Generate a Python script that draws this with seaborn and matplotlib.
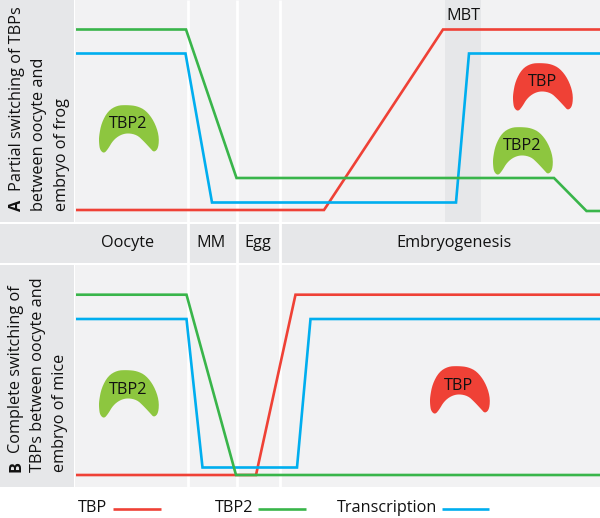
import numpy as np
import pandas as pd
import matplotlib
matplotlib.use("Agg")
import matplotlib.pyplot as plt
from matplotlib.patches import Polygon, Rectangle
import seaborn as sns

# --- data (in image pixels) ---
a_tbp_x = [76, 324, 443, 600]
a_tbp_y = [210, 210, 29.5, 29.5]
a_tbp2_x = [76, 186, 236.5, 554, 586.5, 600]
a_tbp2_y = [29.5, 29.5, 178, 178, 211, 211]
a_tr_x = [76, 185.5, 212, 456, 469, 600]
a_tr_y = [53.5, 53.5, 202.5, 202.5, 53.5, 53.5]

b_tbp_x = [76, 256, 295.5, 600]
b_tbp_y = [475, 475, 294.7, 294.7]
b_tbp2_x = [76, 186.5, 236, 600]
b_tbp2_y = [294.7, 294.7, 475, 475]
b_tr_x = [76, 186.5, 202.5, 297, 310.5, 600]
b_tr_y = [319, 319, 467.5, 467.5, 319, 319]

stage_names = ["Oocyte", "MM", "Egg", "Embryogenesis"]
stage_centers = [127.5, 211, 257.5, 454]
divider_x = [188, 236.5, 280]

RED = "#ef4136"
GREEN = "#39b54a"
BLUE = "#00aeef"
BLOB_GREEN = "#8dc63f"
PANEL = "#f2f2f3"
BAND = "#e6e7e9"

# outline of the protein shape, relative to its top left corner
blob_x = [-1, 0, 4, 8, 13, 20, 28, 37, 43, 50, 54, 58.5, 59, 54, 46, 37, 27, 17, 8, 1.5, -1]
blob_y = [37, 44, 47.5, 43, 34.5, 29, 27, 29, 34.5, 42, 46.5, 42, 29, 15, 4.5, 0, -1, -0.5, 5, 17, 30]

# name, left, top, colour
blobs = [("TBP2", 100, 106, BLOB_GREEN),
         ("TBP", 514, 64, RED),
         ("TBP2", 494, 128, BLOB_GREEN),
         ("TBP2", 100, 371, BLOB_GREEN),
         ("TBP", 431, 367, RED)]

sns.set_theme(style="white")
plt.rcParams['font.family'] = ['Open Sans', 'DejaVu Sans']
FS = 11.7


def smooth(pts, n=2):
    # rounds the corners of the closed outline
    for _ in range(n):
        nxt = np.roll(pts, -1, axis=0)
        pts = np.column_stack([0.75 * pts + 0.25 * nxt, 0.25 * pts + 0.75 * nxt]).reshape(-1, 2)
    return pts


fig = plt.figure(figsize=(6, 5.18), dpi=100)
ax = fig.add_axes([0, 0, 1, 1])
ax.set_xlim(0, 600)
ax.set_ylim(518, 0)
ax.axis("off")

# --- backgrounds ---
for x, y, w, h, c in [(0, 0, 74, 221.5, BAND), (75, 0, 525, 221.5, PANEL),
                      (0, 224, 600, 39, BAND),
                      (0, 265, 74, 221.5, BAND), (75, 265, 525, 221.5, PANEL)]:
    ax.add_patch(Rectangle((x, y), w, h, fc=c, ec="none", zorder=0))
for x in divider_x:
    ax.plot([x, x], [0, 486.5], color="white", lw=2, zorder=1, solid_capstyle="butt")
ax.add_patch(Rectangle((445, 0), 36, 221.5, fc=BAND, ec="none", zorder=1))

# --- lines ---
lines = [(a_tbp_x, a_tbp_y, RED), (a_tr_x, a_tr_y, BLUE), (a_tbp2_x, a_tbp2_y, GREEN),
         (b_tbp_x, b_tbp_y, RED), (b_tr_x, b_tr_y, BLUE), (b_tbp2_x, b_tbp2_y, GREEN)]
for xs, ys, c in lines:
    df = pd.DataFrame({"x": xs, "y": ys})
    sns.lineplot(data=df, x="x", y="y", sort=False, estimator=None, color=c, lw=1.9,
                 solid_joinstyle="miter", solid_capstyle="butt", legend=False, ax=ax, zorder=3)
ax.set_xlim(0, 600)
ax.set_ylim(518, 0)
ax.axis("off")

# --- protein shapes ---
outline = np.column_stack([blob_x, blob_y]).astype(float)
for name, left, top, c in blobs:
    ax.add_patch(Polygon(smooth(outline) + [left, top], closed=True, fc=c, ec="none", zorder=4))
    ax.text(left + 28, top + 18.5, name, fontsize=FS, color="#111111", ha="center", va="center", zorder=5)

# --- text ---
ax.text(463, 16, "MBT", fontsize=FS, color="#111111", ha="center", va="center", zorder=5)
for name, cx in zip(stage_names, stage_centers):
    ax.text(cx, 243, name, fontsize=FS, color="#111111", ha="center", va="center")

side = dict(fontsize=FS, color="#111111", rotation=90, ha="center", va="bottom")
ax.text(17, 211, "A", fontweight="bold", **side)
ax.text(17, 191, "Partial switching of TBPs", **side)
ax.text(39.5, 211, "between oocyte and", **side)
ax.text(61.5, 211, "embryo of frog", **side)
ax.text(16, 472, "B", fontweight="bold", **side)
ax.text(16, 453, "Complete switching of", **side)
ax.text(38.5, 472, "TBPs between oocyte and", **side)
ax.text(60, 472, "embryo of mice", **side)

# --- legend row ---
legend_names = ["TBP", "TBP2", "Transcription"]
legend_text_x = [78, 215, 337]
legend_line_x = [(113, 161), (258, 306), (442, 489)]
legend_colors = [RED, GREEN, BLUE]
for name, tx, (x0, x1), c in zip(legend_names, legend_text_x, legend_line_x, legend_colors):
    ax.text(tx, 508, name, fontsize=FS, color="#111111", ha="left", va="center")
    ax.plot([x0, x1], [508.5, 508.5], color=c, lw=1.9, solid_capstyle="butt")

fig.savefig("out.png", dpi=100)
